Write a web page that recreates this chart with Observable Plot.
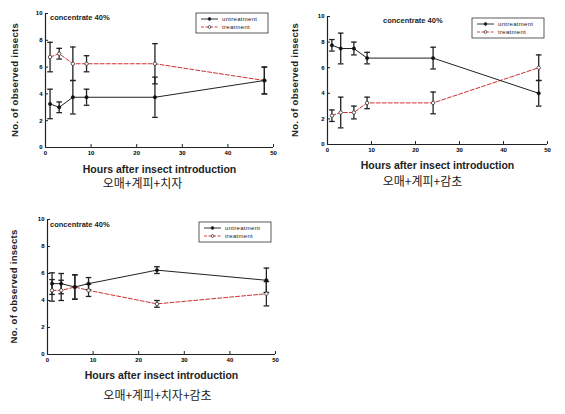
<!DOCTYPE html>
<html>
<head>
<meta charset="utf-8">
<script src="https://cdn.jsdelivr.net/npm/d3@7"></script>
<script src="https://cdn.jsdelivr.net/npm/@observablehq/plot@0.6"></script>
<style>
  body { margin: 0; background: #fff; }
  #wrap { position: relative; width: 565px; height: 414px; background: #fff; overflow: hidden; }
  .panel { position: absolute; }
</style>
</head>
<body>
<div id="wrap"></div>
<script>
const hours = [1, 3, 6, 9, 24, 48];
const xTicks = [0, 10, 20, 30, 40, 50];
const yTicks = [0, 2, 4, 6, 8, 10];
const seriesNames = ["untreatment", "treatment"];
const xLabel = "Hours after insect introduction";
const yLabel = "No. of observed insects";
const noteText = "concentrate 40%";
const captions = ["오매+계피+치자", "오매+계피+감초", "오매+계피+치자+감초"];

// panel 1
const p1Untreat = [3.25, 3.0, 3.75, 3.75, 3.75, 5.0];
const p1UntreatErr = [1.1, 0.4, 1.25, 0.6, 1.5, 1.0];
const p1Treat = [6.75, 7.0, 6.25, 6.25, 6.25, 5.0];
const p1TreatErr = [1.1, 0.4, 1.25, 0.6, 1.5, 1.0];
// panel 2
const p2Untreat = [7.75, 7.5, 7.5, 6.75, 6.75, 4.0];
const p2UntreatErr = [0.45, 1.2, 0.5, 0.45, 0.85, 1.0];
const p2Treat = [2.25, 2.5, 2.5, 3.25, 3.25, 6.0];
const p2TreatErr = [0.45, 1.2, 0.5, 0.45, 0.85, 1.0];
// panel 3
const p3Untreat = [5.25, 5.25, 5.0, 5.25, 6.25, 5.5];
const p3UntreatErr = [0.8, 0.75, 0.9, 0.45, 0.25, 0.9];
const p3Treat = [4.75, 4.75, 5.0, 4.75, 3.75, 4.5];
const p3TreatErr = [0.8, 0.75, 0.9, 0.45, 0.25, 0.9];

function rows(vals, errs, s) {
  return hours.map((h, i) => ({hour: h, value: vals[i], lo: vals[i] - errs[i], hi: vals[i] + errs[i], series: s}));
}

const capSymbol = {
  draw(ctx, size) {
    const w = 2.8;
    ctx.moveTo(-w, 0);
    ctx.lineTo(w, 0);
  }
};

const panels = [
  {left: 0, top: 0, width: 280, height: 200, m: [13, 7, 53, 45], data: [p1Untreat, p1UntreatErr, p1Treat, p1TreatErr],
   note: {x: 50, y: 18}, legend: {x: 196, y: 13}, labelDy: 25, capDy: 40, capDx: -17, yLabelX: 15, cap: captions[0]},
  {left: 280, top: 0, width: 285, height: 200, m: [16, 18, 56, 47], data: [p2Untreat, p2UntreatErr, p2Treat, p2TreatErr],
   note: {x: 103, y: 21}, legend: {x: 192, y: 18}, labelDy: 24, capDy: 41, capDx: -15, yLabelX: 15, cap: captions[1]},
  {left: 0, top: 200, width: 280, height: 214, m: [19, 5, 60, 47], data: [p3Untreat, p3UntreatErr, p3Treat, p3TreatErr],
   note: {x: 50, y: 25}, legend: {x: 199, y: 22}, labelDy: 24, capDy: 45, capDx: -4, yLabelX: 14, cap: captions[2]}
];

const wrap = document.getElementById("wrap");
const sans = "Liberation Sans, Arial, sans-serif";

panels.forEach(p => {
  const un = rows(p.data[0], p.data[1], seriesNames[0]);
  const tr = rows(p.data[2], p.data[3], seriesNames[1]);
  const all = un.concat(tr);
  const svg = Plot.plot({
    width: p.width,
    height: p.height,
    marginTop: p.m[0], marginRight: p.m[1], marginBottom: p.m[2], marginLeft: p.m[3],
    style: {fontFamily: sans, background: "white", overflow: "visible"},
    x: {domain: [0, 50]},
    y: {domain: [0, 10]},
    marks: [
      Plot.axisX({ticks: xTicks, tickSize: -3, tickPadding: 6, fontSize: 6, fontWeight: "bold", label: null, stroke: "#222"}),
      Plot.axisY({ticks: yTicks, tickSize: -3, tickPadding: 6, fontSize: 6, fontWeight: "bold", label: null, stroke: "#222"}),
      Plot.ruleX([0], {stroke: "#222", strokeWidth: 1.2}),
      Plot.ruleY([0], {stroke: "#222", strokeWidth: 1.2}),
      Plot.line(tr, {x: "hour", y: "value", stroke: "#d03030", strokeWidth: 1, strokeDasharray: "4,2"}),
      Plot.line(un, {x: "hour", y: "value", stroke: "#222", strokeWidth: 1}),
      Plot.ruleX(all, {x: "hour", y1: "lo", y2: "hi", stroke: "#222", strokeWidth: 1.3}),
      Plot.dot(all, {x: "hour", y: "lo", symbol: capSymbol, stroke: "#222", strokeWidth: 1.3, r: 3}),
      Plot.dot(all, {x: "hour", y: "hi", symbol: capSymbol, stroke: "#222", strokeWidth: 1.3, r: 3}),
      Plot.dot(tr, {x: "hour", y: "value", r: 1.7, fill: "white", stroke: "#333", strokeWidth: 0.8}),
      Plot.dot(un, {x: "hour", y: "value", r: 1.7, fill: "#111", stroke: "#111", strokeWidth: 0.5}),
      Plot.text([xLabel], {frameAnchor: "bottom", dy: p.labelDy, fontSize: 10.5, fontWeight: "bold", fill: "#222", fontFamily: sans, textAnchor: "middle", letterSpacing: 0.6}),
      Plot.text([p.cap], {frameAnchor: "bottom", dy: p.capDy, dx: p.capDx, fontSize: 12, fill: "#222", fontFamily: "Noto Sans CJK KR, sans-serif", textAnchor: "middle", letterSpacing: 1.5})
    ]
  });
  svg.classList.add("panel");
  svg.style.left = p.left + "px";
  svg.style.top = p.top + "px";
  const s = d3.select(svg);
  const fh = p.height - p.m[0] - p.m[2];
  // y label
  s.append("text")
    .attr("transform", `translate(${p.yLabelX},${p.m[0] + fh / 2}) rotate(-90)`)
    .attr("text-anchor", "middle").attr("dominant-baseline", "middle")
    .attr("font-size", 9.5).attr("font-weight", "bold").attr("fill", "#222")
    .attr("letter-spacing", 0.3)
    .attr("font-family", sans)
    .text(yLabel);
  // note
  s.append("text")
    .attr("x", p.note.x).attr("y", p.note.y)
    .attr("text-anchor", "start").attr("dominant-baseline", "middle")
    .attr("font-size", 7.5).attr("font-weight", "bold").attr("fill", "#222")
    .attr("font-family", sans)
    .text(noteText);
  // legend
  const g = s.append("g").attr("transform", `translate(${p.legend.x},${p.legend.y})`);
  g.append("rect").attr("x", 0).attr("y", 0).attr("width", 72).attr("height", 20)
    .attr("fill", "white").attr("stroke", "#333").attr("stroke-width", 0.8);
  const items = [
    {name: seriesNames[0], stroke: "#222", dash: null, fill: "#111"},
    {name: seriesNames[1], stroke: "#d03030", dash: "3,1.5", fill: "white"}
  ];
  items.forEach((it, i) => {
    const y = 6 + i * 8;
    g.append("line").attr("x1", 5).attr("x2", 22).attr("y1", y).attr("y2", y)
      .attr("stroke", it.stroke).attr("stroke-width", 0.9).attr("stroke-dasharray", it.dash);
    g.append("circle").attr("cx", 13.5).attr("cy", y).attr("r", 1.4)
      .attr("fill", it.fill).attr("stroke", "#222").attr("stroke-width", 0.7);
    g.append("text").attr("x", 26).attr("y", y).attr("dominant-baseline", "middle")
      .attr("text-anchor", "start")
      .attr("font-size", 6).attr("fill", "#222").attr("letter-spacing", 0.3)
      .attr("font-family", sans).text(it.name);
  });
  wrap.appendChild(svg);
});
</script>
</body>
</html>
